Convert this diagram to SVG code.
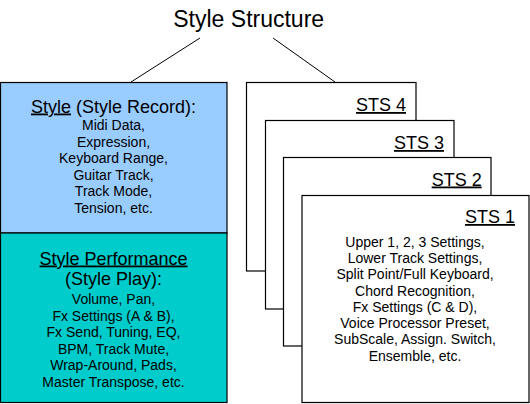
<svg xmlns="http://www.w3.org/2000/svg" width="530" height="404" viewBox="0 0 530 404">
<style>
text{font-family:"Liberation Sans",Arial,sans-serif;fill:#000}
.t{font-size:23px;text-anchor:middle}
.h{font-size:18px;text-anchor:middle}
.s{font-size:18px;text-anchor:end;text-decoration:underline}
.b{font-size:14px;text-anchor:middle}
.u{text-decoration:underline}
.box{fill:#fff;stroke:#000;stroke-width:1.2}
.ln{stroke:#000;stroke-width:1;fill:none}
</style>
<rect width="530" height="404" fill="#fff"/>
<text class="t" x="248.7" y="27">Style Structure</text>
<g id="connectors">
<line class="ln" x1="200" y1="38" x2="131" y2="82"/>
<line class="ln" x1="273" y1="38" x2="335" y2="82"/>
</g>
<g id="style-record">
<rect x="0.5" y="82.5" width="226.5" height="150.5" fill="#99CCFF" stroke="#000" stroke-width="1.2"/>
<text class="h" x="113.5" y="112.5"><tspan class="u">Style</tspan> (Style Record):</text>
<text class="b" x="113.5" y="130">Midi Data,</text>
<text class="b" x="113.5" y="146.5">Expression,</text>
<text class="b" x="113.5" y="163">Keyboard Range,</text>
<text class="b" x="113.5" y="179.5">Guitar Track,</text>
<text class="b" x="113.5" y="196">Track Mode,</text>
<text class="b" x="113.5" y="212.5">Tension, etc.</text>
</g>
<g id="style-performance">
<rect x="0.5" y="233" width="226.5" height="169.5" fill="#00CCCC" stroke="#000" stroke-width="1.2"/>
<text class="h" x="113.5" y="264.5"><tspan class="u">Style Performance</tspan></text>
<text class="h" x="113.5" y="285">(Style Play):</text>
<text class="b" x="113.5" y="304">Volume, Pan,</text>
<text class="b" x="113.5" y="320.5">Fx Settings (A &amp; B),</text>
<text class="b" x="113.5" y="337">Fx Send, Tuning, EQ,</text>
<text class="b" x="113.5" y="353.5">BPM, Track Mute,</text>
<text class="b" x="113.5" y="370">Wrap-Around, Pads,</text>
<text class="b" x="113.5" y="386.5">Master Transpose, etc.</text>
</g>
<g id="sts4">
<rect class="box" x="246.5" y="82.5" width="169.5" height="188.5"/>
<text class="s" x="406" y="111">STS 4</text>
</g>
<g id="sts3">
<rect class="box" x="265.5" y="120.5" width="188.5" height="188.5"/>
<text class="s" x="444" y="149">STS 3</text>
</g>
<g id="sts2">
<rect class="box" x="283.5" y="157.5" width="207.5" height="188.5"/>
<text class="s" x="481.7" y="185.5">STS 2</text>
</g>
<g id="sts1">
<rect class="box" x="302" y="195.5" width="227" height="207"/>
<text class="s" x="515" y="223">STS 1</text>
<text class="b" x="415" y="246.5">Upper 1, 2, 3 Settings,</text>
<text class="b" x="415" y="263">Lower Track Settings,</text>
<text class="b" x="415" y="279">Split Point/Full Keyboard,</text>
<text class="b" x="415" y="295.5">Chord Recognition,</text>
<text class="b" x="415" y="311.5">Fx Settings (C &amp; D),</text>
<text class="b" x="415" y="328">Voice Processor Preset,</text>
<text class="b" x="415" y="344">SubScale, Assign. Switch,</text>
<text class="b" x="415" y="360.5">Ensemble, etc.</text>
</g>
</svg>
